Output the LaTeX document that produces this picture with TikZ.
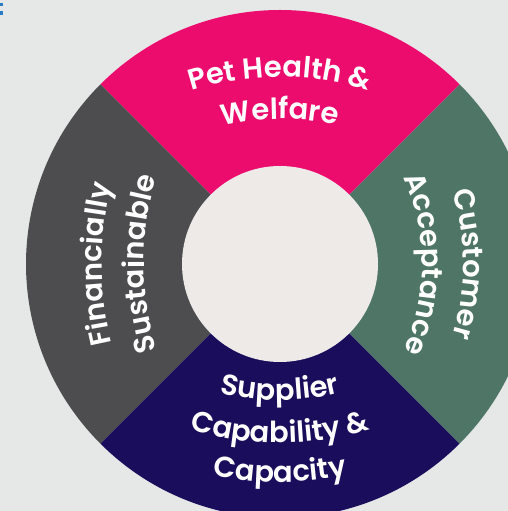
\documentclass[tikz,border=0pt]{standalone}
\usepackage{fontspec}
\newfontfamily\lblfont{Poppins SemiBold}
\usetikzlibrary{decorations.text}
\definecolor{bg}{HTML}{E6E8E8}
\definecolor{pinkseg}{HTML}{EC0C6E}
\definecolor{slateseg}{HTML}{4D4D4F}
\definecolor{sageseg}{HTML}{4E7566}
\definecolor{navyseg}{HTML}{1A0D5C}
\definecolor{hub}{HTML}{EDEAE8}
\definecolor{markblue}{HTML}{2A7BC4}
\begin{document}
\begin{tikzpicture}[x=1pt,y=1pt,
  curved/.style={decorate, decoration={text along path, text align=center,
     text color=white, text={|\lblfont\fontsize{29}{33}\selectfont|#1}}}]
% canvas
\fill[bg] (0,0) rectangle (508,511);
\useasboundingbox (0,0) rectangle (508,511);
% small blue fragment in the top-left corner
\fill[markblue] (0,505) rectangle (2.5,508);
\fill[markblue] (0,496) rectangle (2.5,499.5);
\begin{scope}
  \clip (0,0) rectangle (508,511);
  \coordinate (O) at (280,247);
  % four quadrants of the ring
  \fill[pinkseg]  (O) -- ++(45:254)  arc[start angle=45, end angle=135, radius=254] -- cycle;
  \fill[slateseg] (O) -- ++(135:254) arc[start angle=135,end angle=225, radius=254] -- cycle;
  \fill[navyseg]  (O) -- ++(225:254) arc[start angle=225,end angle=315, radius=254] -- cycle;
  \fill[sageseg]  (O) -- ++(-45:254) arc[start angle=-45,end angle=45,  radius=254] -- cycle;
  % hub
  \fill[hub] (O) circle[radius=98];
\end{scope}
% top label
\coordinate (T) at (280,144);
\path[curved={Pet Health {\&}}] (T) ++(135:290) arc[start angle=135,end angle=45,radius=290];
\path[curved={Welfare}]         (T) ++(135:248) arc[start angle=135,end angle=45,radius=248];
% bottom label
\coordinate (B) at (280,371);
\path[curved={Supplier}]           (B) ++(230:260) arc[start angle=230,end angle=310,radius=260];
\path[curved={Capability {\&}}]    (B) ++(230:303) arc[start angle=230,end angle=310,radius=303];
\path[curved={Capacity}]           (B) ++(235:342) arc[start angle=235,end angle=305,radius=342];
% right label
\coordinate (R) at (209,247);
\path[curved={Customer}]   (R) ++(35:254) arc[start angle=35,end angle=-35,radius=254];
\path[curved={Acceptance}] (R) ++(40:213) arc[start angle=40,end angle=-40,radius=213];
% left label
\coordinate (L) at (446,247);
\path[curved={Financially}] (L) ++(210:344) arc[start angle=210,end angle=150,radius=344];
\path[curved={Sustainable}] (L) ++(210:302) arc[start angle=210,end angle=150,radius=302];
\end{tikzpicture}
\end{document}
